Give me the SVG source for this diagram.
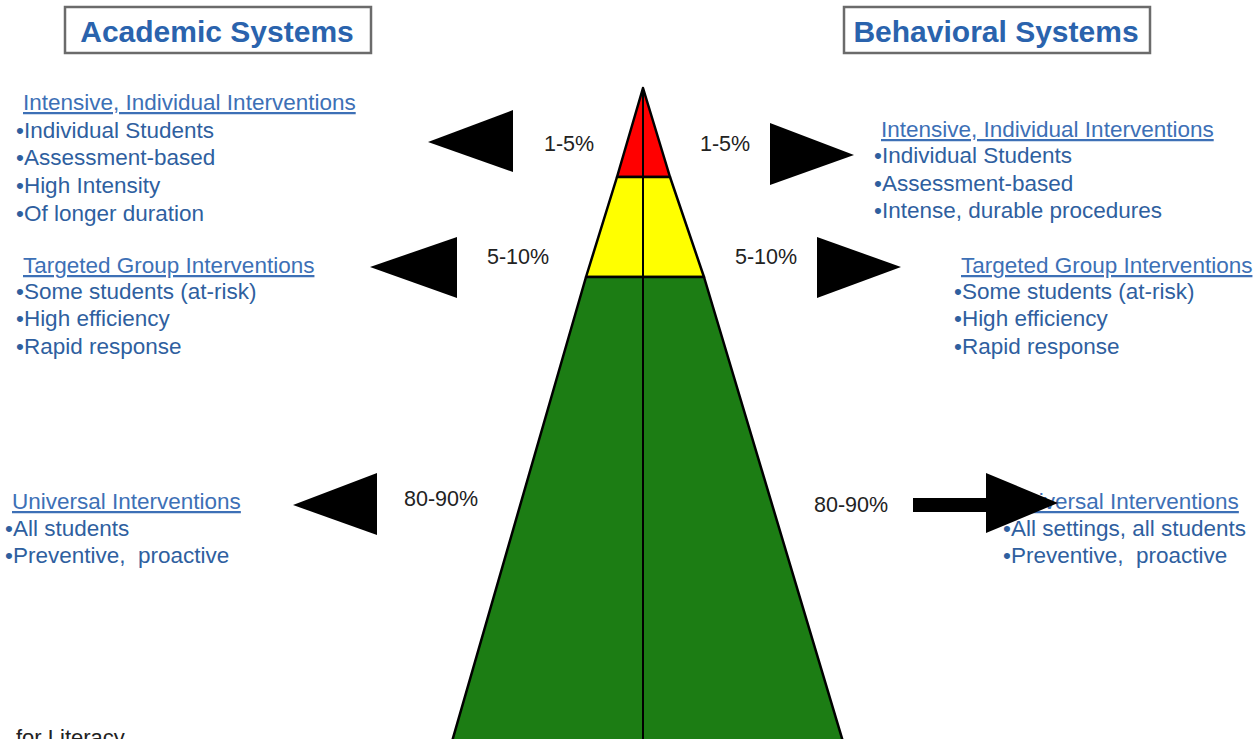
<svg xmlns="http://www.w3.org/2000/svg" width="1255" height="739" viewBox="0 0 1255 739">
<style>
.title{font-family:"Liberation Sans",Arial,sans-serif;font-size:30px;font-weight:bold;fill:#2a63ad}
.tbox{fill:#fff;stroke:#6b6b6b;stroke-width:2.5}
.hd{font-family:"Liberation Sans",Arial,sans-serif;font-size:22.5px;fill:#3d70b6;text-decoration:underline}
.bl{font-family:"Liberation Sans",Arial,sans-serif;font-size:22.5px;fill:#2f5f9f;white-space:pre}
.pc{font-family:"Liberation Sans",Arial,sans-serif;font-size:21.5px;fill:#222}
.ar{fill:#000}
.tier{stroke:#000;stroke-width:2.5;stroke-linejoin:round}
</style>
<rect width="1255" height="739" fill="#fff"/>

<g id="pyramid">
<polygon class="tier" points="643,88 617,177 670,177" fill="#ff0000"/>
<polygon class="tier" points="617,177 670,177 704,277 586,277" fill="#ffff00"/>
<polygon class="tier" points="586,277 704,277 844,745 451,745" fill="#1c7d14"/>
<line x1="643" y1="88" x2="643" y2="739" stroke="#000" stroke-width="2"/>
</g>

<g id="title-academic">
<rect class="tbox" x="65" y="7" width="306" height="46"/>
<text class="title" x="217" y="42" text-anchor="middle">Academic Systems</text>
</g>
<g id="title-behavioral">
<rect class="tbox" x="844" y="7" width="306" height="46"/>
<text class="title" x="996" y="42" text-anchor="middle">Behavioral Systems</text>
</g>

<g id="academic-intensive">
<text class="hd" x="23" y="110">Intensive, Individual Interventions</text>
<text class="bl" x="16" y="138">•Individual Students</text>
<text class="bl" x="16" y="165">•Assessment-based</text>
<text class="bl" x="16" y="193">•High Intensity</text>
<text class="bl" x="16" y="221">•Of longer duration</text>
</g>
<g id="academic-targeted">
<text class="hd" x="23" y="273">Targeted Group Interventions</text>
<text class="bl" x="16" y="299">•Some students (at-risk)</text>
<text class="bl" x="16" y="326">•High efficiency</text>
<text class="bl" x="16" y="354">•Rapid response</text>
</g>
<g id="academic-universal">
<text class="hd" x="12" y="509">Universal Interventions</text>
<text class="bl" x="5" y="536">•All students</text>
<text class="bl" x="5" y="563" xml:space="preserve">•Preventive,  proactive</text>
</g>

<g id="behavioral-intensive">
<text class="hd" x="881" y="137">Intensive, Individual Interventions</text>
<text class="bl" x="874" y="163">•Individual Students</text>
<text class="bl" x="874" y="191">•Assessment-based</text>
<text class="bl" x="874" y="218">•Intense, durable procedures</text>
</g>
<g id="behavioral-targeted">
<text class="hd" x="961" y="273">Targeted Group Interventions</text>
<text class="bl" x="954" y="299">•Some students (at-risk)</text>
<text class="bl" x="954" y="326">•High efficiency</text>
<text class="bl" x="954" y="354">•Rapid response</text>
</g>
<g id="behavioral-universal">
<text class="hd" x="1010" y="509">Universal Interventions</text>
<text class="bl" x="1003" y="536">•All settings, all students</text>
<text class="bl" x="1003" y="563" xml:space="preserve">•Preventive,  proactive</text>
</g>

<g id="percent-labels">
<text class="pc" x="544" y="151">1-5%</text>
<text class="pc" x="700" y="151">1-5%</text>
<text class="pc" x="487" y="264">5-10%</text>
<text class="pc" x="735" y="264">5-10%</text>
<text class="pc" x="404" y="506">80-90%</text>
<text class="pc" x="814" y="512">80-90%</text>
</g>

<g id="connectors">
<polygon class="ar" points="513,110 513,172 428,142"/>
<polygon class="ar" points="457,237 457,298 370,267"/>
<polygon class="ar" points="377,473 377,535 293,505"/>
<polygon class="ar" points="770,123 770,185 854,155"/>
<polygon class="ar" points="817,237 817,298 901,267"/>
<polygon class="ar" points="913,498 986,498 986,473 1058,503 986,533 986,512 913,512"/>
</g>

<g id="footer">
<text class="pc" x="16" y="745" style="font-size:22px">for Literacy</text>
</g>
</svg>
